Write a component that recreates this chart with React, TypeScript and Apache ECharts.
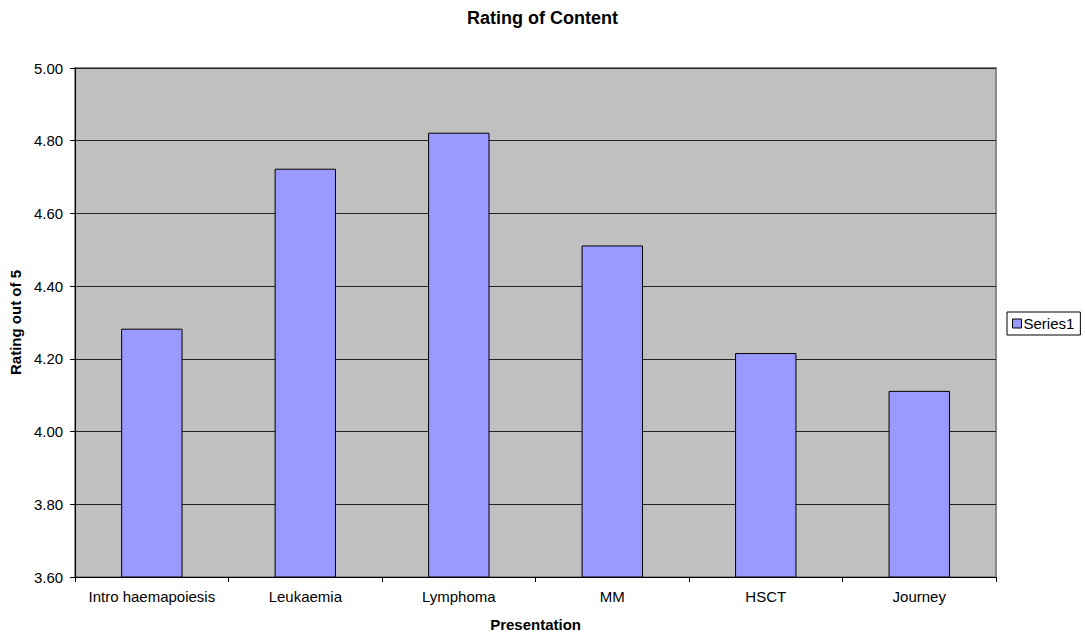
import React, { useEffect, useRef } from "react";
import * as echarts from "echarts";

const categories = ["Intro haemapoiesis", "Leukaemia", "Lymphoma", "MM", "HSCT", "Journey"];
const seriesName = "Series1";
const values = [4.283, 4.723, 4.822, 4.512, 4.216, 4.112];
const yMin = 3.6;
const yMax = 5.0;
const yStep = 0.2;

const FONT = "'Liberation Sans', Arial, sans-serif";

export default function App() {
  const ref = useRef<HTMLDivElement>(null);
  useEffect(() => {
    if (!ref.current) return;
    const chart = echarts.init(ref.current, undefined, { renderer: "svg" });
    chart.setOption({
      animation: false,
      backgroundColor: "#ffffff",
      textStyle: { fontFamily: FONT },
      title: {
        text: "Rating of Content",
        left: "center",
        top: 4,
        textStyle: { fontFamily: FONT, fontSize: 18, fontWeight: "bold", color: "#000" },
      },
      legend: {
        data: [seriesName],
        left: 1007,
        top: 312,
        orient: "vertical",
        icon: "rect",
        itemWidth: 9,
        itemHeight: 9,
        itemGap: 0,
        padding: [4, 6, 4, 5],
        borderColor: "#000",
        borderWidth: 1,
        backgroundColor: "#fff",
        textStyle: { fontFamily: FONT, fontSize: 15, color: "#000", padding: [0, 0, 0, -3] },
        itemStyle: { borderColor: "#000", borderWidth: 1 },
      },
      grid: {
        left: 74,
        right: 89,
        top: 68,
        bottom: 59,
        show: true,
        backgroundColor: "#C0C0C0",
        borderColor: "#888888",
        borderWidth: 2,
      },
      xAxis: {
        type: "category",
        data: categories,
        name: "Presentation",
        nameLocation: "middle",
        nameGap: 40,
        nameTextStyle: { fontFamily: FONT, fontSize: 15, fontWeight: "bold", color: "#000" },
        axisLine: { show: true, lineStyle: { color: "#000", width: 1 } },
        axisTick: { show: true, alignWithLabel: false, length: 5, lineStyle: { color: "#000" } },
        axisLabel: { fontFamily: FONT, fontSize: 15, color: "#000", margin: 12, interval: 0 },
        splitLine: { show: false },
      },
      yAxis: {
        type: "value",
        min: yMin,
        max: yMax,
        interval: yStep,
        name: "Rating out of 5",
        nameLocation: "middle",
        nameGap: 50,
        nameRotate: 90,
        nameTextStyle: { fontFamily: FONT, fontSize: 15, fontWeight: "bold", color: "#000" },
        axisLine: { show: true, lineStyle: { color: "#000", width: 1 } },
        axisTick: { show: true, length: 5, lineStyle: { color: "#000" } },
        axisLabel: {
          fontFamily: FONT,
          fontSize: 15,
          color: "#000",
          margin: 12,
          formatter: (v: number) => v.toFixed(2),
        },
        splitLine: { show: true, lineStyle: { color: "#222", width: 1 } },
      },
      series: [
        {
          name: seriesName,
          type: "bar",
          data: values,
          barCategoryGap: "60%",
          itemStyle: { color: "#9999FF", borderColor: "#000", borderWidth: 1 },
        },
      ],
    });
    return () => chart.dispose();
  }, []);
  return <div ref={ref} style={{ width: 1085, height: 637, position: "absolute", left: 0, top: 0 }} />;
}
